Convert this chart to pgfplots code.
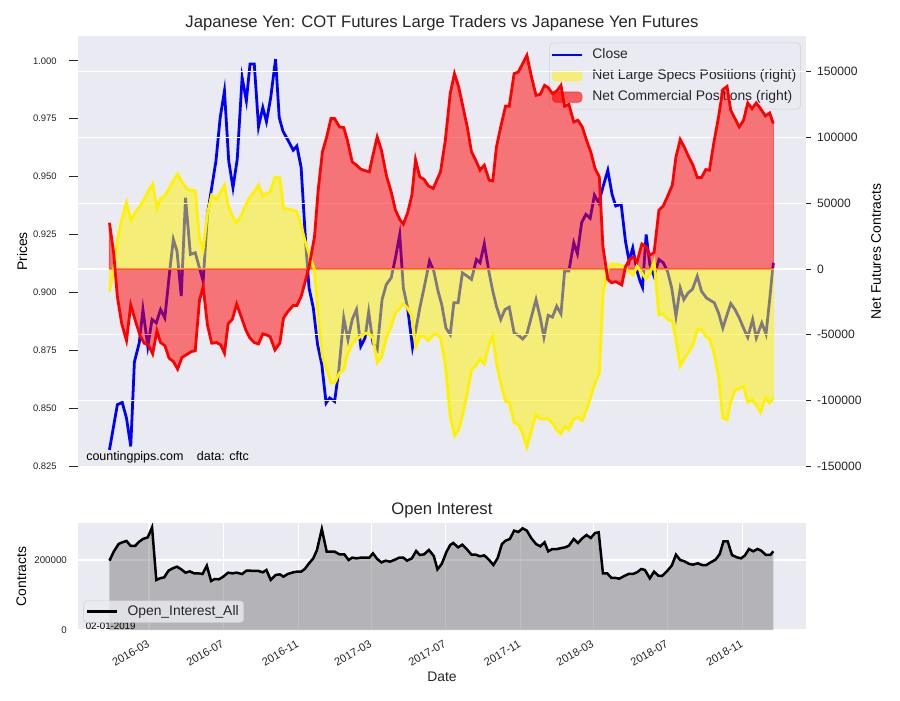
\documentclass[border=0pt]{standalone}
\usepackage{pgfplots}
\pgfplotsset{compat=1.18}
\usepackage{pgfplotstable}
\usepackage{fontspec}
\setmainfont{Liberation Sans}
\definecolor{bgc}{HTML}{EAEAF2}
\definecolor{txt}{HTML}{262626}

% days since 2016-01-01
\pgfplotstableread{
d close
-5 0.8320
8 0.8515
16 0.8525
23 0.8457
30 0.8335
36 0.8700
44 0.8782
50 0.8926
58 0.8767
65 0.8883
72 0.8868
79 0.8926
86 0.8890
94 0.9092
100 0.9229
106 0.9178
113 0.8984
120 0.9409
128 0.9164
136 0.9171
149 0.9048
156 0.9337
163 0.9452
170 0.9567
177 0.9755
184 0.9870
191 0.9567
198 0.9452
205 0.9575
213 0.9928
220 0.9827
226 0.9986
233 0.9986
240 0.9715
247 0.9798
253 0.9737
260 0.9841
268 1.0007
274 0.9755
280 0.9697
289 0.9654
297 0.9614
303 0.9632
310 0.9539
314 0.9366
318 0.9192
323 0.9019
330 0.8933
337 0.8775
344 0.8688
351 0.8522
357 0.8544
365 0.8529
372 0.8667
380 0.8890
387 0.8796
394 0.8883
401 0.8926
408 0.8767
415 0.8803
421 0.8916
428 0.8782
435 0.8753
443 0.8969
450 0.9034
458 0.9063
465 0.9149
472 0.9250
478 0.9019
485 0.8933
493 0.8763
499 0.8846
505 0.8933
512 0.9019
521 0.9135
528 0.9092
535 0.9005
541 0.8948
548 0.8846
555 0.8818
561 0.8955
568 0.8955
575 0.9084
583 0.9070
590 0.9056
598 0.9142
604 0.9128
611 0.9210
619 0.9084
625 0.9005
631 0.8940
638 0.8883
645 0.8926
652 0.8936
660 0.8825
667 0.8815
674 0.8799
681 0.8820
688 0.8890
696 0.8969
703 0.8890
709 0.8806
716 0.8901
723 0.8893
730 0.8940
737 0.8907
743 0.9092
750 0.9092
758 0.9214
764 0.9167
771 0.9301
778 0.9337
785 0.9320
792 0.9420
799 0.9387
806 0.9455
814 0.9527
821 0.9423
827 0.9373
836 0.9380
843 0.9221
849 0.9135
855 0.9192
862 0.9092
867 0.9048
871 0.9022
877 0.9250
883 0.9121
890 0.9070
898 0.9142
905 0.9128
912 0.9092
919 0.9019
926 0.8897
933 0.9019
939 0.8969
946 0.8998
953 0.9013
961 0.9070
968 0.9005
976 0.8976
989 0.8955
996 0.8911
1003 0.8846
1010 0.8904
1016 0.8952
1023 0.8926
1030 0.8890
1037 0.8846
1044 0.8806
1052 0.8883
1058 0.8803
1067 0.8868
1074 0.8820
1080 0.8969
1086 0.9128
}\closetab

\pgfplotstableread{
d specs comm
-5 -17200 35100
2 -800 11900
8 22000 -21000
15 37200 -41200
23 50600 -54400
30 37200 -27300
38 43500 -40000
45 47800 -50100
52 52900 -56400
59 59400 -57700
66 64500 -64500
73 46100 -47000
79 53600 -55900
86 55400 -58200
93 61200 -67800
100 67000 -70300
107 72100 -76100
114 66200 -67300
123 60500 -64700
130 59900 -62700
136 59400 -62200
143 23300 -23500
149 14900 -13400
156 42300 -42500
163 56100 -56400
171 52900 -55900
178 58600 -57700
184 63700 -64000
190 48600 -41700
197 40200 -38200
204 35100 -26600
212 41000 -36900
219 48600 -46300
226 54900 -52600
233 58600 -55900
240 63700 -56900
247 55400 -49300
253 57400 -50100
259 58600 -51400
267 69600 -61500
275 69300 -56400
281 46100 -37400
288 45500 -32400
297 44800 -27800
303 43500 -27800
310 33400 -21000
316 22000 -10800
323 11900 1700
332 -800 24500
338 -36200 59900
345 -66500 89000
352 -76600 100400
359 -86700 114300
365 -86700 114300
373 -79100 108000
380 -76600 107500
386 -65200 97900
394 -56900 81400
401 -53300 78900
408 -51400 75900
416 -48800 74600
422 -49300 73800
428 -52600 86500
435 -71100 100400
442 -67000 90300
450 -52600 71300
458 -43800 58600
465 -33600 44800
472 -29800 37700
478 -26600 34100
485 -29800 42700
492 -35700 56100
498 -59000 83200
505 -51400 70000
512 -51400 68100
519 -54400 63200
527 -50100 61200
533 -49500 67500
539 -52600 73800
547 -72800 97900
555 -112100 133300
562 -126700 148500
569 -122200 138300
576 -109500 123100
583 -94300 108000
590 -76600 89000
597 -73600 82700
604 -68500 75100
611 -72100 78900
619 -56900 67500
625 -50800 67000
631 -71500 92800
638 -86700 108000
646 -100700 123900
652 -101400 123700
660 -116600 148500
667 -118400 149700
674 -124700 156100
681 -135300 162400
688 -123400 147200
696 -110800 132000
703 -114000 132800
710 -114000 139600
716 -114000 137900
723 -117100 133300
730 -122200 135300
737 -125200 139600
743 -119600 123700
750 -122200 125200
758 -114000 111800
765 -112800 113000
772 -115100 108000
779 -107000 97900
786 -96900 89000
793 -86700 76400
800 -79100 70000
806 -18400 16900
814 -200 -7800
820 3800 -10400
827 3600 -9600
837 2800 -12100
843 1000 1700
849 -2500 6800
856 -4600 9300
862 2300 5500
870 -3300 19000
877 -7600 16900
883 -3300 10600
890 5500 12400
898 -34900 44800
905 -34100 47800
913 -38700 56100
920 -39500 63700
926 -53900 85200
933 -73600 98400
940 -67800 92300
947 -62700 85200
954 -57700 78900
961 -46300 69600
968 -45800 69600
975 -51400 75600
981 -53100 75100
988 -62700 95400
996 -81700 115600
1003 -113300 136300
1010 -114600 138800
1016 -100700 120600
1023 -92300 114300
1030 -91000 108000
1037 -89300 113000
1044 -101400 126200
1051 -99400 121900
1058 -103200 126200
1065 -109000 121900
1073 -98100 116300
1080 -101900 118600
1086 -98100 110500
}\cottab

\pgfplotstableread{
d oi
-5 198100
2 223800
10 245700
16 250500
23 254300
30 240000
37 240000
44 252400
50 260000
58 264800
65 293300
72 142900
78 147600
85 150500
92 169500
99 176200
106 181000
113 173300
120 163800
127 167600
134 161900
141 161900
148 160000
155 183800
162 140000
168 145700
175 144800
182 152400
190 163800
197 161900
204 163800
213 160000
220 169500
226 169500
233 168600
240 168600
247 164800
253 171400
260 142900
268 157100
275 159000
281 152400
288 160000
297 164800
303 166700
310 166700
316 174300
323 190500
330 204800
336 228600
344 288600
352 223800
359 223800
365 223800
373 216200
381 216200
388 200000
394 206700
401 204800
408 206700
415 206700
422 206700
428 219000
435 202900
442 193300
449 198100
456 195200
463 200000
471 206700
478 206700
484 198100
492 204800
499 225700
505 214300
512 216200
520 228600
528 211400
534 173300
541 188600
549 223800
555 242900
560 248600
568 236200
575 243800
582 231400
590 215200
597 215200
604 210500
611 213300
619 200000
626 185700
633 205700
640 245700
646 255200
653 260000
660 283800
667 280000
674 290500
681 283800
688 262900
696 245700
703 239000
710 250500
716 224800
723 231400
731 231400
738 234300
744 236200
750 241000
758 260000
765 248600
772 261900
779 271400
786 262900
793 277100
799 279000
806 161900
813 161900
820 148600
827 148600
833 146700
841 154300
848 160000
855 160000
862 164800
869 174300
875 171400
883 147600
890 166700
897 155200
903 154300
911 167600
919 183800
926 215200
933 200000
940 196200
948 188600
954 186700
962 190500
969 185700
976 185700
983 193300
991 201000
998 217100
1004 253300
1011 253300
1018 214300
1026 207600
1033 204800
1039 212400
1046 231400
1053 224800
1060 231400
1066 226700
1074 214300
1081 214300
1086 224800
}\oitab

\begin{document}
\begin{tikzpicture}[x=1pt,y=1pt]
\path[use as bounding box] (0,0) rectangle (648,504);

% ---------- top panel, left axis (prices) ----------
\begin{axis}[
  at={(56.16pt,167.76pt)}, anchor=south west,
  scale only axis, width=524.16pt, height=310.32pt,
  xmin=-56.7, xmax=1139.7,
  ymin=0.8246, ymax=1.0107,
  axis background/.style={fill=bgc},
  axis line style={draw=none},
  xtick=\empty,
  ytick={0.825,0.85,0.875,0.9,0.925,0.95,0.975,1.0},
  ytick pos=left,
  tick align=outside, major tick length=6.5pt,
  tick style={txt, line width=0.6pt},
  yticklabel style={font=\fontsize{6.8}{8}\selectfont, text=txt, xshift=-5.3pt},
  /pgf/number format/assume math mode=true,
  /pgf/number format/.cd, fixed, fixed zerofill, precision=3,
  /pgfplots/.cd,
  scaled y ticks=false,
  legend cell align=left,
  legend style={
    at={(0.9927,0.9845)}, anchor=north east,
    fill=bgc, draw=black!18, rounded corners=2.5pt,
    font=\fontsize{10}{12}\selectfont, text=txt,
    inner xsep=1pt, inner ysep=1pt,
    nodes={inner xsep=2pt, inner ysep=2.5pt, text height=7.6pt, text depth=2.6pt},
    /tikz/every odd column/.append style={column sep=4.5pt},
    /tikz/every even column/.append style={column sep=0pt},
  },
]
\addplot[blue, line width=2pt,
  legend image code/.code={\draw[blue, line width=2pt] (0cm,0cm) -- (0.75cm,0cm);}]
  table[x=d, y=close]{\closetab};
\addlegendentry{Close}
\addlegendimage{legend image code/.code={\fill[yellow, opacity=0.5] (0cm,-0.13cm) rectangle (0.75cm,0.13cm);}}
\addlegendentry{Net Large Specs Positions (right)}
\addlegendimage{legend image code/.code={\fill[red, opacity=0.6] (0cm,-0.13cm) rectangle (0.75cm,0.13cm);}}
\addlegendentry{Net Commercial Positions (right)}
\end{axis}

% ---------- top panel, right axis (net positions) ----------
\begin{axis}[
  at={(56.16pt,167.76pt)}, anchor=south west,
  scale only axis, width=524.16pt, height=310.32pt,
  xmin=-56.7, xmax=1139.7,
  ymin=-150500, ymax=177100,
  axis line style={draw=none},
  xtick=\empty,
  ytick={-150000,-100000,-50000,0,50000,100000,150000},
  ytick pos=right, yticklabel pos=right,
  tick align=outside, major tick length=3.6pt,
  tick style={txt, line width=0.6pt},
  ymajorgrids=true, grid style={white, line width=0.8pt},
  yticklabel style={font=\fontsize{8.7}{10}\selectfont, text=txt, xshift=0.9pt},
  /pgf/number format/assume math mode=true,
  /pgf/number format/.cd, fixed, 1000 sep={},
  /pgfplots/.cd,
  scaled y ticks=false,
]
\addplot[fill=yellow, fill opacity=0.5, draw=yellow, draw opacity=0.5, line width=0.8pt]
  table[x=d, y=specs]{\cottab} \closedcycle;
\addplot[fill=red, fill opacity=0.5, draw=red, draw opacity=0.5, line width=0.8pt]
  table[x=d, y=comm]{\cottab} \closedcycle;
\addplot[yellow, line width=2pt] table[x=d, y=specs]{\cottab};
\addplot[red, line width=2pt] table[x=d, y=comm]{\cottab};
\end{axis}

% ---------- bottom panel: open interest ----------
\begin{axis}[
  at={(56.16pt,50.4pt)}, anchor=south west,
  scale only axis, width=524.16pt, height=77.04pt,
  xmin=-56.7, xmax=1139.7,
  ymin=0, ymax=305700,
  axis background/.style={fill=bgc},
  axis line style={draw=none},
  xtick={60,182,305,425,547,670,790,912,1035},
  xticklabels={2016-03,2016-07,2016-11,2017-03,2017-07,2017-11,2018-03,2018-07,2018-11},
  xticklabel style={rotate=30, anchor=north east, font=\fontsize{8}{9}\selectfont, text=txt, yshift=-1.5pt, xshift=-1.5pt},
  ytick={0,200000},
  yticklabels={0,200000},
  scaled y ticks=false,
  yticklabel style={font=\fontsize{7}{8}\selectfont, text=txt, xshift=-4.5pt},
  major tick length=0pt,
  xmajorgrids=true, ymajorgrids=true, grid style={white, line width=0.8pt},
  legend style={
    at={(0.0073,0.068)}, anchor=south west,
    fill=bgc, fill opacity=0.8, text opacity=1, draw opacity=1, draw=black!18, rounded corners=2.5pt,
    font=\fontsize{10}{12}\selectfont, text=txt,
    inner xsep=1.5pt, inner ysep=0.5pt,
    nodes={inner xsep=2pt, inner ysep=2.4pt, text height=7.4pt, text depth=2.4pt},
    /tikz/every odd column/.append style={column sep=4.5pt},
    /tikz/every even column/.append style={column sep=0pt},
  },
]
\addplot[draw=none, fill=gray, fill opacity=0.5, forget plot]
  table[x=d, y=oi]{\oitab} \closedcycle;
\node[anchor=base west, font=\fontsize{7}{8}\selectfont, text=black] at (rel axis cs:0.004,0.006) {02-01-2019};
\addplot[black, line width=1.8pt,
  legend image code/.code={\draw[black, line width=2pt] (0cm,0cm) -- (0.76cm,0cm);}]
  table[x=d, y=oi]{\oitab};
\addlegendentry{Open\_Interest\_All}
\end{axis}

% ---------- texts ----------
\node[anchor=base, font=\fontsize{12}{14}\selectfont, text=txt] at (318.2,484.1) {Japanese Yen: COT Futures Large Traders vs Japanese Yen Futures};
\node[anchor=base, font=\fontsize{12}{14}\selectfont, text=txt] at (318.2,133.9) {Open Interest};
\node[rotate=90, font=\fontsize{10}{12}\selectfont, text=black] at (16,322.9) {Prices};
\node[rotate=90, font=\fontsize{10}{12}\selectfont, text=black] at (630.7,322.9) {Net Futures Contracts};
\node[rotate=90, font=\fontsize{10}{12}\selectfont, text=black] at (15.3,88.9) {Contracts};
\node[font=\fontsize{10}{12}\selectfont, text=txt] at (318.2,16.6) {Date};
\node[anchor=base west, font=\fontsize{9}{11}\selectfont, text=black, inner sep=0pt] at (61.9,172.3) {countingpips.com};
\node[anchor=base west, font=\fontsize{9}{11}\selectfont, text=black, inner sep=0pt] at (141.6,172.3) {data: cftc};
\end{tikzpicture}
\end{document}
